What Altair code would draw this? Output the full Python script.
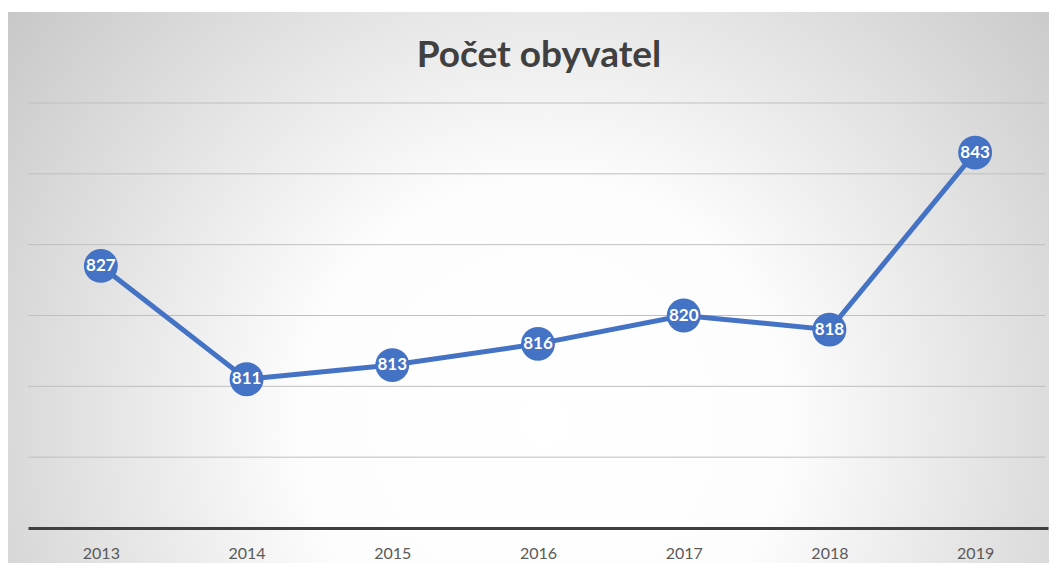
import altair as alt
import pandas as pd

years = ["2013", "2014", "2015", "2016", "2017", "2018", "2019"]
population = [827, 811, 813, 816, 820, 818, 843]
grid_values = [800, 810, 820, 830, 840, 850]
title_text = "Počet obyvatel"

df = pd.DataFrame({"year": years, "value": population})
grid_df = pd.DataFrame({"g": grid_values})

W, H = 1020, 425
BLUE = "#4472C4"

y_scale = alt.Scale(domain=[790, 850], nice=False, zero=False)

bg = alt.Chart(pd.DataFrame({"a": [0]})).mark_rect(
    color=alt.RadialGradient(
        gradient="radial",
        x1=0.5, y1=0.62, r1=0,
        x2=0.5, y2=0.62, r2=0.75,
        stops=[
            alt.GradientStop(offset=0, color="#ffffff"),
            alt.GradientStop(offset=0.3, color="#fdfdfd"),
            alt.GradientStop(offset=1, color="#b8b8b8"),
        ],
    )
).encode(
    x=alt.value(-20), x2=alt.value(W + 30),
    y=alt.value(-91), y2=alt.value(H + 50),
)

grid = alt.Chart(grid_df).mark_rule(color="#bfbfbf", strokeWidth=1).encode(
    y=alt.Y("g:Q", scale=y_scale, axis=None),
    x=alt.value(0), x2=alt.value(W - 3),
)

x_enc = alt.X(
    "year:N", sort=years, title=None,
    scale=alt.Scale(paddingInner=0, paddingOuter=0),
    axis=alt.Axis(
        labelAngle=0, labelFont="Lato", labelFontSize=16, labelColor="#595959",
        labelPadding=17, ticks=False, domain=True, domainColor="#404040",
        domainWidth=3, grid=False, zindex=1,
    ),
)
y_enc = alt.Y("value:Q", title=None, scale=y_scale, axis=None)

line = alt.Chart(df).mark_line(color=BLUE, strokeWidth=5).encode(x=x_enc, y=y_enc)
pts = alt.Chart(df).mark_circle(color=BLUE, size=1150, opacity=1).encode(
    x=alt.X("year:N", sort=years), y="value:Q"
)
labels = alt.Chart(df).mark_text(
    color="white", font="Lato", fontWeight="bold", fontSize=17, baseline="middle"
).encode(x=alt.X("year:N", sort=years), y="value:Q", text="value:Q")

title = alt.Chart(pd.DataFrame({"t": [title_text]})).mark_text(
    font="Lato", fontSize=37, fontWeight="bold", color="#404040",
    baseline="middle", align="center",
).encode(x=alt.value(W / 2 + 1), y=alt.value(-47), text="t:N")

chart = alt.layer(bg, grid, line, pts, labels, title).properties(
    width=W, height=H,
    padding={"left": 20, "top": 95, "right": 1, "bottom": 35},
    autosize=alt.AutoSizeParams(type="none"),
    background="white",
).configure_view(stroke=None)

chart.save("out.html", embed_options={"renderer": "svg", "actions": False})
